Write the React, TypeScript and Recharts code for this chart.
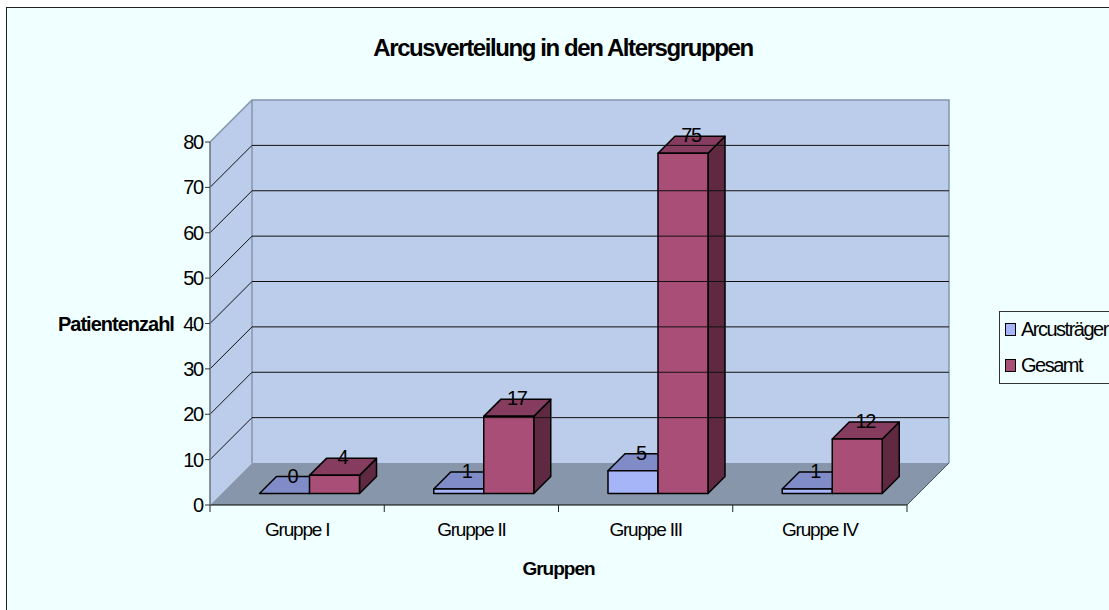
import {
  BarChart, Bar, XAxis, YAxis, ReferenceArea, ReferenceLine, LabelList, Legend,
} from 'recharts';

const groups = ['Gruppe I', 'Gruppe II', 'Gruppe III', 'Gruppe IV'];
const arcusValues = [0, 1, 5, 1];
const totalValues = [4, 17, 75, 12];
const yTicks = [0, 10, 20, 30, 40, 50, 60, 70, 80];

const rows = groups.map((group, i) => ({
  group,
  arcus: arcusValues[i],
  total: totalValues[i],
}));

const FONT = '"Liberation Sans", Arial, sans-serif';
const WALL_DEPTH = 42;
const BAR_DEPTH = 17;
const BAR_SHIFT_X = 12.5; // bars stand part way into the floor
const BAR_SHIFT_Y = 11.5;

const arcusFaces = { front: '#a6b5f8', top: '#7f8cc8', side: '#5d6796' };
const totalFaces = { front: '#a94f77', top: '#853c5e', side: '#5f2a41' };

function Bar3D(props: any, faces: typeof arcusFaces) {
  const { x, y, width, height } = props;
  const l = x + BAR_SHIFT_X;
  const r = l + width;
  const t = y - BAR_SHIFT_Y;
  const b = t + height;
  const d = BAR_DEPTH;
  return (
    <g stroke="#000" strokeWidth={1.5} strokeLinejoin="round">
      <polygon points={`${r},${t} ${r + d},${t - d} ${r + d},${b - d} ${r},${b}`} fill={faces.side} />
      <polygon points={`${l},${t} ${l + d},${t - d} ${r + d},${t - d} ${r},${t}`} fill={faces.top} />
      {height > 0 && <rect x={l} y={t} width={width} height={height} fill={faces.front} />}
    </g>
  );
}

function Walls(props: any) {
  const { x, y, width, height } = props;
  const d = WALL_DEPTH;
  const b = y + height;
  const r = x + width;
  return (
    <g>
      <polygon points={`${x},${y} ${x + d},${y - d} ${x + d},${b - d} ${x},${b}`} fill="#bbcdea" />
      <rect x={x + d} y={y - d} width={width} height={height} fill="#bbcdea" />
      <polygon points={`${x},${b} ${x + d},${b - d} ${r + d},${b - d} ${r},${b}`} fill="#8796aa" />
      <polyline
        points={`${x},${y} ${x + d},${y - d} ${r + d},${y - d} ${r + d},${b - d}`}
        fill="none" stroke="#8494aa" strokeWidth={1.5}
      />
      <line x1={x + d} y1={y - d} x2={x + d} y2={b - d} stroke="#8494aa" strokeWidth={1.5} />
      <line x1={r} y1={b} x2={r + d} y2={b - d} stroke="#4a5564" strokeWidth={1} />
    </g>
  );
}

function WallGridLine(props: any) {
  const { x1, x2, y1 } = props;
  const d = WALL_DEPTH;
  return (
    <polyline
      points={`${x1},${y1} ${x1 + d},${y1 - d} ${x2 + d},${y1 - d}`}
      fill="none" stroke="#111" strokeWidth={1}
    />
  );
}

// category ticks sit on the group boundaries, the text in the middle
function GroupTick(props: any) {
  const { x, y, payload, index } = props;
  const half = payload.offset || 87;
  const last = index === groups.length - 1;
  return (
    <g>
      <line x1={x - half} y1={y} x2={x - half} y2={y + 7} stroke="#222" />
      {last && <line x1={x + half} y1={y} x2={x + half} y2={y + 7} stroke="#222" />}
      <text
        x={x}
        y={y + 31}
        textAnchor="middle"
        fontFamily={FONT}
        fontSize={19}
        letterSpacing={-1.2}
        fill="#000"
      >
        {payload.value}
      </text>
    </g>
  );
}

function ValueLabel(props: any) {
  const { x, y, width, value } = props;
  return (
    <text
      x={x + width / 2 + BAR_SHIFT_X + BAR_DEPTH / 2 - 0.5}
      y={y - BAR_SHIFT_Y - BAR_DEPTH + 6}
      textAnchor="middle"
      fontFamily={FONT}
      fontSize={20}
      letterSpacing={-1.3}
      fill="#000"
    >
      {value}
    </text>
  );
}

function LegendBox({ payload }: any) {
  return (
    <div
      style={{
        width: 110, height: 73, boxSizing: 'border-box', border: '1px solid #333',
        borderRight: 'none', fontFamily: FONT, fontSize: 20, letterSpacing: -1.5,
        color: '#000', paddingLeft: 5, overflow: 'hidden', whiteSpace: 'nowrap',
      }}
    >
      {(payload || []).map((item: any) => (
        <div key={item.value} style={{ height: 35.5, display: 'flex', alignItems: 'center' }}>
          <span
            style={{
              display: 'inline-block', width: 9, height: 11, marginRight: 5,
              background: item.color, border: '1.5px solid #000',
            }}
          />
          {item.value}
        </div>
      ))}
    </div>
  );
}

export default function App() {
  return (
    <div style={{ position: 'absolute', left: 0, top: 0, width: 1109, height: 610, background: '#fff', overflow: 'hidden' }}>
      <div
        style={{
          position: 'absolute', left: 6, top: 7, width: 1103, height: 603, background: '#f0ffff',
          borderTop: '1.5px solid #222', borderLeft: '1.5px solid #222',
        }}
      />
      <div
        style={{
          position: 'absolute', left: 0, top: 34, width: 1126, textAlign: 'center', fontFamily: FONT,
          fontWeight: 'bold', fontSize: 24, letterSpacing: -1.4, color: '#000',
        }}
      >
        Arcusverteilung in den Altersgruppen
      </div>
      <div style={{ position: 'absolute', left: 0, top: 0 }}>
        <BarChart
          width={1109}
          height={610}
          data={rows}
          barSize={50}
          barGap={0}
          margin={{ top: 142, right: 92, bottom: 0, left: 0 }}
        >
          <ReferenceArea y1={0} y2={80} shape={Walls} fill="none" />
          {yTicks.slice(1, -1).map((v) => (
            <ReferenceLine key={v} y={v} shape={WallGridLine} />
          ))}
          <XAxis
            dataKey="group"
            height={105}
            interval={0}
            axisLine={{ stroke: '#000', strokeWidth: 1.2 }}
            tickLine={false}
            tickSize={0}
            tickMargin={0}
            tick={GroupTick}
            label={{
              value: 'Gruppen', position: 'insideBottom', offset: 35, fontFamily: FONT,
              fontSize: 19, fontWeight: 'bold', letterSpacing: -1, fill: '#000',
            }}
          />
          <YAxis
            width={210}
            domain={[0, 80]}
            ticks={yTicks}
            interval={0}
            axisLine={{ stroke: '#667080', strokeWidth: 1.5 }}
            tickLine={{ stroke: '#333' }}
            tickSize={5}
            tickMargin={2}
            tick={{ fontFamily: FONT, fontSize: 20, letterSpacing: -1.2, fill: '#000' }}
            label={{
              value: 'Patientenzahl', position: 'insideLeft', offset: 58, fontFamily: FONT,
              fontSize: 20, fontWeight: 'bold', letterSpacing: -1, fill: '#000',
            }}
          />
          <Bar dataKey="arcus" name="Arcusträger" fill={arcusFaces.front} isAnimationActive={false}
            shape={(p: any) => Bar3D(p, arcusFaces)}>
            <LabelList dataKey="arcus" content={ValueLabel} />
          </Bar>
          <Bar dataKey="total" name="Gesamt" fill={totalFaces.front} isAnimationActive={false}
            shape={(p: any) => Bar3D(p, totalFaces)}>
            <LabelList dataKey="total" content={ValueLabel} />
          </Bar>
          <Legend
            layout="vertical"
            align="right"
            verticalAlign="top"
            content={<LegendBox />}
            wrapperStyle={{ left: 999, top: 311, width: 110 }}
          />
        </BarChart>
      </div>
    </div>
  );
}
